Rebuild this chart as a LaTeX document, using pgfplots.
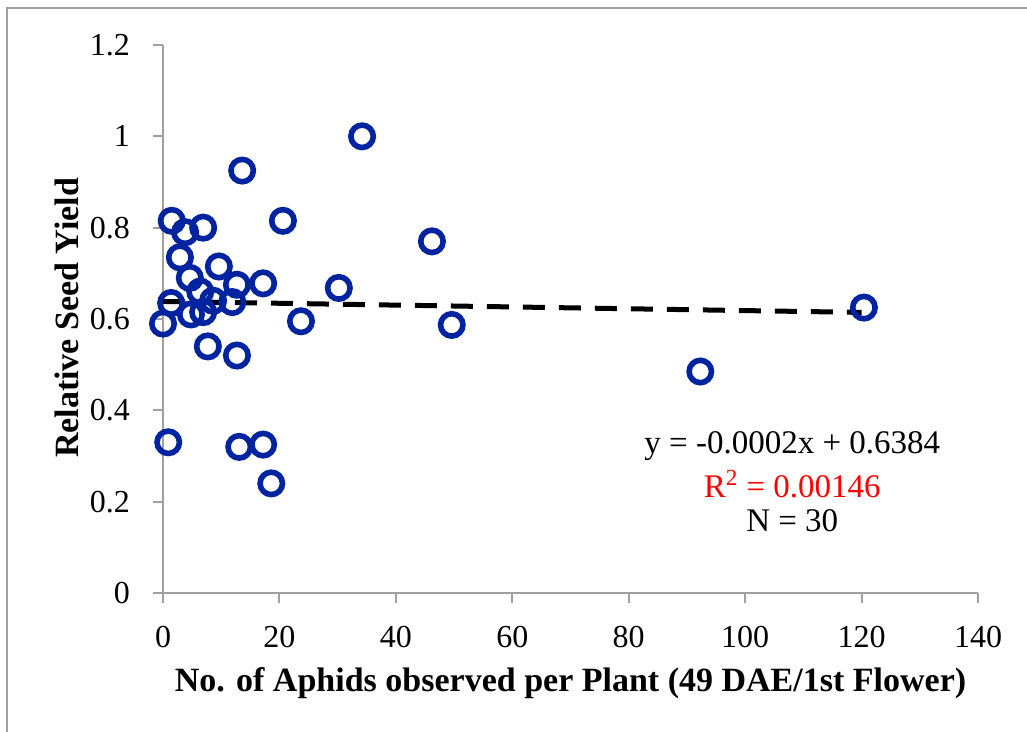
\documentclass[border=0pt]{standalone}
\usepackage{fontspec}
\setmainfont{Liberation Serif}
\usepackage{pgfplots}
\pgfplotsset{compat=1.18}
\definecolor{ptblue}{RGB}{0,35,160}
\definecolor{axgray}{RGB}{160,160,160}
\begin{document}
\begin{tikzpicture}
\path[use as bounding box] (0,0) rectangle (513.5pt,366pt);
\draw[axgray, line width=0.8pt] (3.5pt,0) -- (3.5pt,362pt) -- (513.5pt,362pt);
\begin{axis}[
  at={(81.5pt,69.5pt)}, anchor=south west,
  scale only axis, width=407.5pt, height=274pt,
  xmin=0, xmax=140, ymin=0, ymax=1.2,
  xtick={0,20,...,140}, ytick={0,0.2,0.4,0.6,0.8,1,1.2},
  yticklabels={0,0.2,0.4,0.6,0.8,1,1.2},
  axis lines=left, axis line style={-, axgray, line width=1pt},
  tick align=outside, major tick length=5pt,
  tick style={axgray, line width=1pt},
  /pgf/number format/assume math mode=true,
  tick label style={font=\fontsize{16}{19}\selectfont, black},
  xticklabel style={yshift=-8pt},
  yticklabel style={xshift=-8pt},
  clip=false,
  xlabel={No. of Aphids observed per Plant (49 DAE/1st Flower)},
  ylabel={Relative Seed Yield},
  label style={font=\bfseries\fontsize{17}{20}\selectfont},
  xlabel style={at={(axis description cs:0.5,-0.164)}, anchor=center},
  ylabel style={at={(axis description cs:-0.118,0.502)}, anchor=center, rotate=0},
]
\addplot[only marks, mark=o, mark size=5.6pt, mark options={draw=ptblue, line width=2.8pt}] coordinates {
(0,0.59) (0.9,0.33) (1.4,0.635) (1.5,0.815) (2.9,0.735) (3.8,0.79)
(4.6,0.69) (4.8,0.61) (6.4,0.66) (6.9,0.80) (6.9,0.615) (7.7,0.54)
(8.6,0.64) (9.6,0.715) (11.9,0.637) (12.7,0.675) (12.7,0.52) (13.1,0.32)
(13.6,0.925) (17.2,0.678) (17.2,0.325) (18.6,0.24) (20.6,0.815) (23.7,0.595)
(30.2,0.668) (34.2,1.0) (46.2,0.77) (49.6,0.587) (92.3,0.485) (120.4,0.625)
};
\addplot[black, line width=2.5pt, dash pattern=on 11pt off 7pt] coordinates {(0,0.6384) (120,0.6144)};
\node[font=\fontsize{16.5}{19}\selectfont] at (axis cs:108.1,0.322) {y = -0.0002x + 0.6384};
\node[font=\fontsize{16.5}{19}\selectfont, red] at (axis cs:108.1,0.238) {R\textsuperscript{2} = 0.00146};
\node[font=\fontsize{16.5}{19}\selectfont] at (axis cs:108.1,0.158) {N = 30};
\end{axis}
\end{tikzpicture}
\end{document}
